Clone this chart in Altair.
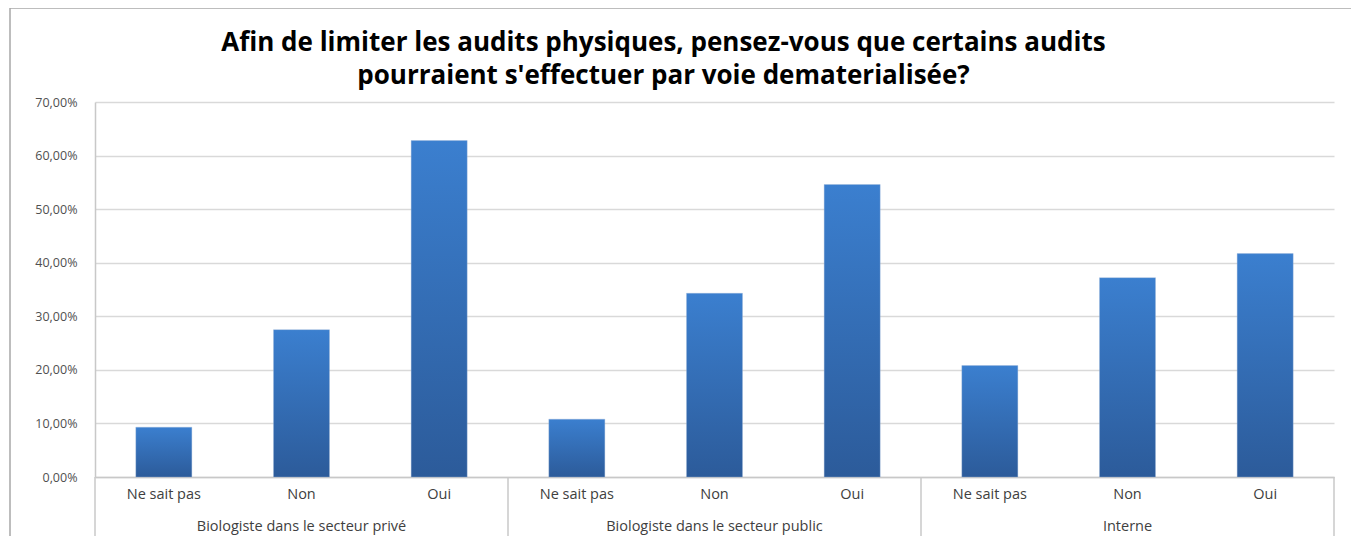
import altair as alt
import pandas as pd

groups = ["Biologiste dans le secteur privé", "Biologiste dans le secteur public", "Interne"]
answers = ["Ne sait pas", "Non", "Oui"]
prive = [0.093, 0.275, 0.628]
public = [0.108, 0.343, 0.546]
interne = [0.208, 0.372, 0.417]
y_ticks = [0, 0.1, 0.2, 0.3, 0.4, 0.5, 0.6, 0.7]
title_lines = ["Afin de limiter les audits physiques, pensez-vous que certains audits",
               "pourraient s'effectuer par voie dematerialisée?"]

rows = []
for g, vals in zip(groups, [prive, public, interne]):
    for a, v in zip(answers, vals):
        rows.append({"key": g + "|" + a, "group": g, "answer": a, "value": v})
df = pd.DataFrame(rows)
keys = list(df["key"])

W, H = 1239, 375
P_IN = 0.593
HALF_GAP = (W / len(keys)) * P_IN / 2

xscale = alt.Scale(domain=keys, paddingInner=P_IN, paddingOuter=P_IN / 2)
xenc = alt.X("key:N", scale=xscale, sort=keys,
             axis=alt.Axis(title=None, labelAngle=0, ticks=False, grid=False,
                           labelExpr="split(datum.label, '|')[1]",
                           labelFontSize=14.5, labelColor="#404040", labelPadding=10,
                           labelFont="Open Sans",
                           domainColor="#c8c8c8", domainWidth=1.5))

grad = alt.Gradient(gradient="linear", x1=0, y1=0, x2=0, y2=1,
                    stops=[alt.GradientStop(color="#3b7fcf", offset=0),
                           alt.GradientStop(color="#2c5b9a", offset=1)])

bars = alt.Chart(df).mark_bar(color=grad, stroke="#9db7d8", strokeWidth=0.6, strokeOpacity=0.6).encode(
    x=xenc,
    y=alt.Y("value:Q", scale=alt.Scale(domain=[0, 0.7], nice=False),
            axis=alt.Axis(title=None, values=y_ticks, ticks=False,
                          labelExpr="replace(format(datum.value, '.2%'), '.', ',')",
                          labelFontSize=12.5, labelColor="#505050", labelPadding=18,
                          labelFont="Open Sans",
                          gridColor="#d9d9d9", gridWidth=1.5,
                          domainColor="#c8c8c8", domainWidth=1.5))
)

starts = df[df["answer"] == answers[0]]
ends = df[df["answer"] == answers[-1]].tail(1)
mids = df[df["answer"] == answers[1]]

sep_start = alt.Chart(starts).mark_rule(color="#c8c8c8", strokeWidth=1.5, xOffset=-HALF_GAP).encode(
    x=alt.X("key:N", scale=xscale, sort=keys, bandPosition=0),
    y=alt.value(H), y2=alt.value(H + 62))
sep_end = alt.Chart(ends).mark_rule(color="#c8c8c8", strokeWidth=1.5, xOffset=HALF_GAP).encode(
    x=alt.X("key:N", scale=xscale, sort=keys, bandPosition=1),
    y=alt.value(H), y2=alt.value(H + 62))

glabels = alt.Chart(mids).mark_text(fontSize=14.5, color="#404040", baseline="middle",
                                    font="Open Sans").encode(
    x=alt.X("key:N", scale=xscale, sort=keys),
    y=alt.value(H + 50),
    text="group:N")

title_df = pd.DataFrame({"line": title_lines, "i": [0, 1]})
title = alt.Chart(title_df).mark_text(fontSize=26, fontWeight="bold", font="Open Sans",
                                      color="#000000", baseline="middle", align="center").encode(
    x=alt.value(W / 2 - 51),
    y=alt.Y("i:Q", scale=alt.Scale(domain=[0, 1], range=[-59, -26]), axis=None),
    text="line:N")

frame = alt.Chart(df.head(1)).mark_rect(fill=None, stroke="#a8a8a8", strokeWidth=1.5).encode(
    x=alt.value(-85), x2=alt.value(W + 18), y=alt.value(-94), y2=alt.value(H + 80))

chart = alt.layer(frame, bars, sep_start, sep_end, glabels, title).resolve_scale(
    y="independent"
).properties(
    width=W, height=H,
    autosize=alt.AutoSizeParams(type="none"),
    padding={"left": 87, "top": 94, "right": 17, "bottom": 60},
).configure_view(stroke=None)

chart.save("out.html", embed_options={"renderer": "svg", "actions": False})
